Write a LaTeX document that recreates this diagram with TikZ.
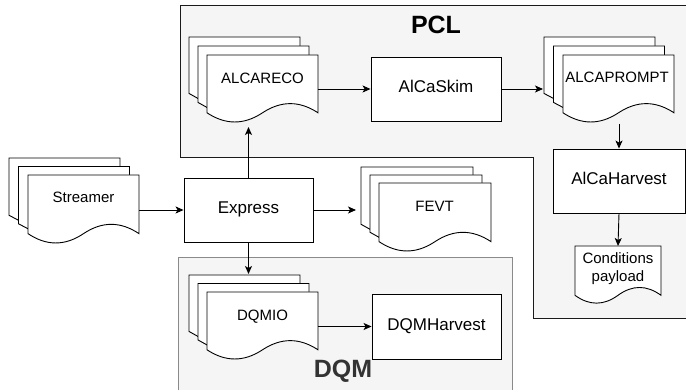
\documentclass[tikz,border=0pt]{standalone}
\usepackage{fontspec}
\setmainfont{Liberation Sans}
\usetikzlibrary{arrows.meta}
\definecolor{grpfill}{HTML}{F5F5F5}
\definecolor{dqmline}{HTML}{8A8A8A}
\definecolor{dqmtext}{HTML}{333333}
\definecolor{pclline}{HTML}{1A1A1A}

% back sheet of a multi-document: X Y w L dx dy (plain numbers)
\newcommand\backsheet[6]{%
  \filldraw[docline] (#1,#2) -- ({#1+#3},#2) -- ({#1+#3},{#2+#6+2})
    -- ({#1+#5},{#2+#4+5}) -- (#1,{#2+#4}) -- cycle;}
% front document sheet: X Y w h
\newcommand\frontsheet[4]{%
  \filldraw[docline] (#1,#2) -- ({#1+#3},#2) -- ({#1+#3},{#2+0.85*#4})
    .. controls ({#1+0.8333*#3},{#2+0.67*#4}) and ({#1+0.6667*#3},{#2+0.67*#4}) .. ({#1+0.5*#3},{#2+0.85*#4})
    .. controls ({#1+0.3333*#3},{#2+1.03*#4}) and ({#1+0.1667*#3},{#2+1.03*#4}) .. (#1,{#2+0.85*#4})
    -- cycle;}
% multi-document: front X Y w h, offsets dx dy
\newcommand\multidoc[6]{%
  \pgfmathsetmacro\mdXa{#1-2*#5}\pgfmathsetmacro\mdYa{#2-2*#6}%
  \pgfmathsetmacro\mdXb{#1-#5}\pgfmathsetmacro\mdYb{#2-#6}%
  \pgfmathsetmacro\mdL{0.83*#4}%
  \backsheet{\mdXa}{\mdYa}{#3}{\mdL}{#5}{#6}%
  \backsheet{\mdXb}{\mdYb}{#3}{\mdL}{#5}{#6}%
  \frontsheet{#1}{#2}{#3}{#4}}

\begin{document}
\begin{tikzpicture}[x=1pt,y=-1pt,
  docline/.style={draw=black, fill=white, line width=0.9pt},
  procbox/.style={draw=black, fill=white, line width=0.9pt, inner sep=0pt,
    font=\fontsize{17}{20}\selectfont, text height=0.72em, text depth=0pt},
  doctext/.style={inner sep=0pt, font=\fontsize{15}{18}\selectfont,
    text height=0.72em, text depth=0pt},
  bbox/.style={inner sep=0pt, outer sep=0pt, draw=none},
  conn/.style={-{Stealth[length=8pt,width=7pt,inset=2pt]}, line width=0.9pt},
  grptitle/.style={inner sep=0pt, font=\fontsize{25}{30}\selectfont\bfseries,
    text height=0.72em, text depth=0pt},
]
\useasboundingbox (0,0) rectangle (686,390);

% ---- containers ----
\filldraw[fill=grpfill, draw=pclline, line width=0.9pt]
  (180,5) -- (690,5) -- (690,318) -- (533,318) -- (533,157) -- (180,157) -- cycle;
\filldraw[fill=grpfill, draw=dqmline, line width=0.9pt]
  (178,257) rectangle (512,395);
\node[grptitle] (pcltitle) at (436,29.5) {PCL};
\node[grptitle, text=dqmtext] (dqmtitle) at (343,373.5) {DQM};

% ---- documents ----
\multidoc{28}{175}{111}{69}{9.5}{8.5}
\node[bbox, minimum width=130, minimum height=86] (streamer) at (74,201) {};
\node[doctext] (streamerlabel) at (83.5,199) {Streamer};

\multidoc{207}{55}{111}{68}{9}{9}
\node[bbox, minimum width=129, minimum height=90] (reco) at (253.5,82) {};
\node[doctext] (recolabel) at (262.5,79.5) {ALCARECO};

\multidoc{563}{55}{111}{68}{9.5}{9}
\node[bbox, minimum width=131, minimum height=87] (prompt) at (608.5,80.5) {};
\node[doctext] (promptlabel) at (617,79) {ALCAPROMPT};

\multidoc{379}{183}{112}{69}{9}{8}
\node[bbox, minimum width=135, minimum height=85] (fevt) at (423.5,209.5) {};
\node[doctext] (fevtlabel) at (434.5,207.5) {FEVT};

\multidoc{207}{292}{111}{68}{9}{8.5}
\node[bbox, minimum width=129, minimum height=86] (dqmio) at (253.5,317) {};
\node[doctext] (dqmiolabel) at (262.5,317) {DQMIO};

\frontsheet{575}{246}{86}{58}
\node[bbox, minimum width=86, minimum height=58] (cond) at (618,275) {};
\node[inner sep=0pt, align=center, font=\fontsize{15}{18}\selectfont] (condlabel) at (618,268.5) {Conditions\\payload};

% ---- process boxes ----
\node[procbox, minimum width=130, minimum height=64] (skim) at (436,89) {AlCaSkim};
\node[procbox, minimum width=129, minimum height=64] (express) at (248.5,210) {Express};
\node[procbox, minimum width=132, minimum height=64] (harvest) at (619,181) {AlCaHarvest};
\node[procbox, minimum width=129, minimum height=65] (dqmh) at (436.5,326.5) {DQMHarvest};

% ---- connectors ----
\draw[conn] (express.west -| streamer.east) -- (express.west);
\draw[conn] (express.east) -- (express.east -| fevt.west);
\draw[conn] (express.north) -- (express.north |- reco.south);
\draw[conn] (express.south) -- (express.south |- dqmio.north);
\draw[conn] (skim.west -| reco.east) -- (skim.west);
\draw[conn] (skim.east) -- (skim.east -| prompt.west);
\draw[conn] (harvest.north |- prompt.south) -- (harvest.north);
\draw[conn] (harvest.south) -- (cond.north);
\draw[conn] (dqmh.west -| dqmio.east) -- (dqmh.west);
\end{tikzpicture}
\end{document}
